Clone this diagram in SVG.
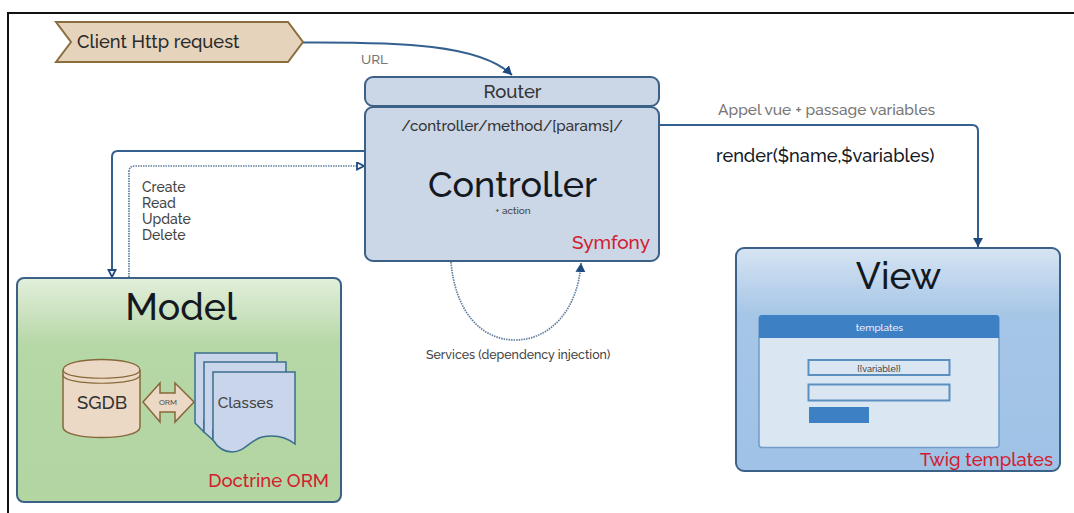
<svg xmlns="http://www.w3.org/2000/svg" width="1074" height="513" viewBox="0 0 1074 513">
<style>
text{font-family:Raleway,"Open Sans","Noto Sans",Lato,sans-serif;font-weight:500}
.n{stroke:#3b6187;stroke-width:2}
.c{fill:none;stroke:#34608f;stroke-width:2}
.d{fill:none;stroke:#5f7f9f;stroke-width:1.700;stroke-dasharray:1.500 1}
.t{fill:#3d80c4}
.i{fill:#dbe6f3;stroke:#5b8fc0;stroke-width:2}
.g{fill:#777}
.s{fill:#444}
.r{fill:#d2202f}
.k{fill:#14181f}
.m{text-anchor:middle}
.e{text-anchor:end}
</style>
<defs>
<linearGradient id="gg" x1="0" y1="0" x2="0" y2="1"><stop offset="0" stop-color="#e3efdc"/><stop offset=".3" stop-color="#b6d7a6"/><stop offset="1" stop-color="#b2d5a2"/></linearGradient>
<linearGradient id="bg" x1="0" y1="0" x2="0" y2="1"><stop offset="0" stop-color="#d6e4f2"/><stop offset=".3" stop-color="#a6c6e7"/><stop offset="1" stop-color="#9fc2e6"/></linearGradient>
<marker id="a" markerWidth="11" markerHeight="11" refX="9" refY="5" orient="auto" markerUnits="userSpaceOnUse"><path d="M0 0L9 5L0 10Z" fill="#1f4a80"/></marker>
<marker id="o" markerWidth="10" markerHeight="10" refX="8" refY="4.500" orient="auto" markerUnits="userSpaceOnUse"><path d="M1 1L8 4.500L1 8Z" fill="#fff" stroke="#1f4a80" stroke-width="1.800"/></marker>
</defs>
<path d="M8 513V13H1074" fill="none" stroke="#111" stroke-width="2"/>
<g id="connectors">
<path class="c" d="M303 42.500C400 42 480 44 512 75" marker-end="url(#a)"/>
<path class="c" d="M364 151H118Q112 151 112 157V277" marker-end="url(#o)"/>
<path class="d" d="M129 277V172Q129 166 135 166H364" marker-end="url(#o)"/>
<path class="c" d="M659 125H972Q978 125 978 131V247" marker-end="url(#a)"/>
<path class="d" d="M451 262C455 310 480 340 515 340C550 340 578 310 581 263" marker-end="url(#a)"/>
</g>
<g id="client"><path d="M56 22H288L303 42L288 62H56L71 42Z" fill="#e6d3bc" stroke="#8a6d3f" stroke-width="2"/><text x="77" y="48" font-size="18.300" fill="#2b2b2b">Client Http request</text></g>
<g id="router"><rect class="n" x="365" y="77" width="294" height="29" rx="8" fill="#cbd6e6"/><text x="512.500" y="98" font-size="18.500" class="m" fill="#333">Router</text></g>
<g id="controller"><rect class="n" x="365" y="107" width="294" height="154" rx="8" fill="#cbd6e6"/>
<text x="512" y="130.500" font-size="15.100" class="m" fill="#333">/controller/method/[params]/</text>
<text x="512.500" y="197" font-size="36" class="m k">Controller</text>
<text x="513" y="214" font-size="10" class="m" fill="#444">+ action</text>
<text x="650" y="249" font-size="19" class="e r">Symfony</text></g>
<g id="model"><rect class="n" x="17" y="278" width="324" height="224" rx="7" fill="url(#gg)"/>
<text x="181" y="320" font-size="37.500" class="m k">Model</text>
<g id="sgdb"><path d="M63 370C63 356 140 356 140 370V427C140 441 63 441 63 427Z" fill="#ecd9c5" stroke="#87683a" stroke-width="1.500"/><path d="M63 370C63 381 140 381 140 370M63 375C63 386 140 386 140 375" fill="none" stroke="#87683a" stroke-width="1.200"/><text x="102" y="409" font-size="18.500" class="m" fill="#333">SGDB</text></g>
<g id="orm"><path d="M143 402L160 383V393H175V383L194 402L175 422V412H160V422Z" fill="#ecd9c5" stroke="#87683a" stroke-width="1.500"/><text x="168" y="405" font-size="8" class="m" fill="#555">ORM</text></g>
<g id="classes" fill="#c9d5ea" stroke="#3b6e8c" stroke-width="1.500"><path d="M195 353H277V420H204V432L195 423Z"/><path d="M204 362H286V430H213V440L204 432Z"/><path d="M213 372H295V444C285 436 272 435 262 437C250 440 245 452 232 452C224 452 218 448 213 440Z"/></g>
<text x="245.500" y="408" font-size="15.500" class="m" fill="#444">Classes</text>
<text x="329" y="487" font-size="18.500" class="e r">Doctrine ORM</text></g>
<g id="view"><rect class="n" x="736" y="248" width="324" height="223" rx="8" fill="url(#bg)"/>
<text x="898.500" y="289" font-size="37" class="m k">View</text>
<rect x="759" y="316" width="240" height="131.500" rx="3" fill="#dbe6f3" stroke="#6f9cc9" stroke-width="1.500"/>
<path class="t" d="M759 338V318Q759 315 762 315H996Q999 315 999 318V338Z"/>
<text x="879.500" y="331" font-size="10" class="m" fill="#eef">templates</text>
<rect class="i" x="808.500" y="360" width="141" height="15"/>
<text x="879" y="372" font-size="9" class="m" fill="#444">{{variable}}</text>
<rect class="i" x="808.500" y="384.500" width="141" height="16"/>
<rect class="t" x="809" y="407" width="60" height="16"/>
<text x="1053" y="466" font-size="18.500" class="e r">Twig templates</text></g>
<text x="361" y="64" font-size="13.500" class="g">URL</text>
<text x="142" y="192" font-size="14" class="s">Create</text>
<text x="142" y="208" font-size="14" class="s">Read</text>
<text x="142" y="224" font-size="14" class="s">Update</text>
<text x="142" y="240" font-size="14" class="s">Delete</text>
<text x="426" y="359" font-size="12.400" class="s">Services (dependency injection)</text>
<text x="718" y="115" font-size="15.500" class="g">Appel vue + passage variables</text>
<text x="716" y="162" font-size="18.200" class="k">render($name,$variables)</text>
</svg>
